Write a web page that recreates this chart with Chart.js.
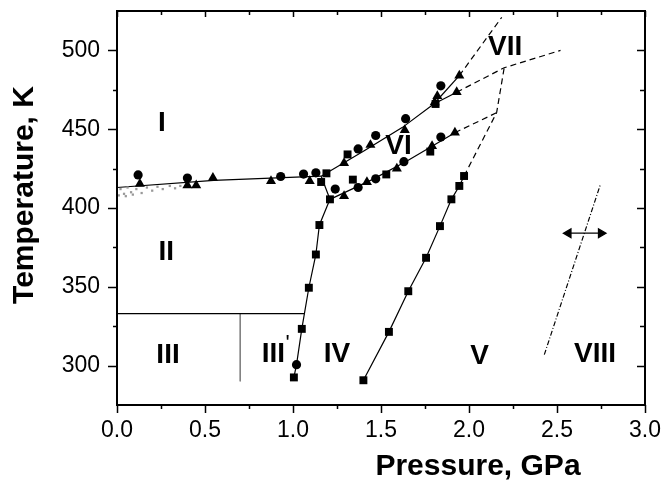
<!DOCTYPE html>
<html>
<head>
<meta charset="utf-8">
<script src="https://cdn.jsdelivr.net/npm/chart.js@4.4.1/dist/chart.umd.min.js"></script>
<style>
  html, body { margin: 0; padding: 0; background: #fff; }
  #wrap { width: 666px; height: 484px; }
</style>
</head>
<body>
<div id="wrap"><canvas id="phase"></canvas></div>
<script>
// tick values
const xTicks = [0, 0.5, 1.0, 1.5, 2.0, 2.5, 3.0];
const yTicks = [300, 350, 400, 450, 500];

// measured points [P (GPa), T (K)]
const circles = [
  [0.12, 421], [0.40, 419], [0.93, 420], [1.06, 421.5], [1.13, 422.3],
  [1.24, 412], [1.37, 413], [1.47, 418.5], [1.63, 429.4], [1.84, 445],
  [1.37, 437.5], [1.47, 446], [1.64, 456.7], [1.84, 477.5], [1.02, 300.6]
];
const squares = [
  [1.19, 422], [1.16, 416.5], [1.31, 434], [1.81, 466],
  [1.21, 405.5], [1.15, 389.2], [1.13, 370.5], [1.09, 349.4], [1.05, 323.3], [1.005, 292.5],
  [1.34, 418], [1.53, 421.3], [1.78, 435.8],
  [1.40, 290.7], [1.545, 321.4], [1.655, 347.2], [1.756, 368.4], [1.835, 388.5],
  [1.90, 405.5], [1.945, 414], [1.972, 420.3]
];
const triangles = [
  [0.13, 415.4], [0.40, 414.4], [0.45, 414.4], [0.545, 419.2], [0.875, 417.1], [1.095, 417.1],
  [1.29, 428.5], [1.44, 440], [1.635, 449.5], [1.805, 467], [1.82, 471], [1.93, 473.5], [1.945, 484],
  [1.29, 407.6], [1.42, 416.5], [1.59, 425], [1.79, 439.3], [1.92, 447.8]
];
// faint hatched band of readings near the I/II boundary
const hatch = [
  [0.02, 412], [0.04, 409], [0.06, 413], [0.08, 410], [0.11, 412], [0.14, 409.5],
  [0.17, 413], [0.20, 411], [0.23, 413.5], [0.26, 412], [0.30, 414], [0.33, 412.5], [0.36, 414],
  [0.01, 408], [0.05, 407.5], [0.09, 408.5]
];

// phase boundaries
const lineIII = [[0, 333], [1.068, 333]];
const lineIIIp = [[0.70, 333], [0.70, 290]];
const lineIII_II = [[0, 413], [0.55, 417.5], [1.16, 420.2]];
const lineIV = [[1.16, 420.2], [1.21, 405.5], [1.15, 389.2], [1.13, 370.5], [1.09, 349.4], [1.05, 323.3], [1.02, 300.6], [1.005, 292.5]];
const lineUpper = [[1.16, 420.2], [1.40, 436], [1.62, 451], [1.80, 466]];
const lineUpperA = [[1.80, 466], [1.945, 484]];
const lineUpperB = [[1.80, 466], [1.93, 473.5]];
const lineLower = [[1.21, 405.5], [1.45, 418], [1.65, 430], [1.92, 447.8]];
const lineV = [[1.40, 290.7], [1.545, 321.4], [1.655, 347.2], [1.756, 368.4], [1.835, 388.5], [1.90, 405.5], [1.945, 414], [1.972, 420.3]];
const dashA = [[1.945, 484], [2.186, 521]];
const dashB = [[1.93, 473.5], [2.20, 489], [2.52, 500]];
const dashLower = [[1.92, 447.8], [2.157, 460.5]];
const dashV = [[1.972, 420.3], [2.157, 460.5], [2.20, 489]];
const lineVIII = [[2.428, 307], [2.748, 415.4]];
const arrow = [[2.565, 384], [2.75, 384]];

// region names
const regionNames = ['I', 'II', 'III', 'III', 'IV', 'V', 'VI', 'VII', 'VIII'];
const regionP = [0.255, 0.28, 0.29, 0.889, 1.25, 2.06, 1.60, 2.205, 2.716];
const regionT = [454, 372, 306.5, 307, 307, 306, 439, 501.8, 307];

const pts = a => a.map(([x, y]) => ({ x: x, y: y }));

function lineSet(arr, dash, width, color) {
  return {
    data: pts(arr),
    showLine: true,
    borderColor: color || '#000',
    borderWidth: width || 1.2,
    borderDash: dash || [],
    pointRadius: 0,
    fill: false
  };
}
function markSet(arr, style, r, color) {
  return {
    data: pts(arr),
    showLine: false,
    pointStyle: style,
    pointRadius: r,
    backgroundColor: color || '#000',
    borderColor: color || '#000',
    borderWidth: 0
  };
}

const frame = {
  id: 'frame',
  afterDatasetsDraw(chart) {
    const ctx = chart.ctx;
    const a = chart.chartArea;
    const sx = chart.scales.x;
    const sy = chart.scales.y;
    ctx.save();
    ctx.strokeStyle = '#000';
    ctx.lineWidth = 2;
    ctx.strokeRect(a.left, a.top, a.right - a.left, a.bottom - a.top);
    ctx.lineWidth = 1.5;
    ctx.beginPath();
    for (let v = 0; v <= 3.001; v += 0.25) {
      const px = Math.round(sx.getPixelForValue(v)) + 0.5;
      const major = Math.abs(v * 2 - Math.round(v * 2)) < 1e-6;
      const len = major ? 8 : 4;
      ctx.moveTo(px, a.bottom); ctx.lineTo(px, a.bottom + len);
      ctx.moveTo(px, a.top); ctx.lineTo(px, a.top + (major ? 6 : 4));
    }
    for (let v = 300; v <= 500; v += 25) {
      const py = Math.round(sy.getPixelForValue(v)) + 0.5;
      const major = v % 50 === 0;
      ctx.moveTo(a.left, py); ctx.lineTo(a.left - (major ? 9 : 4), py);
      ctx.moveTo(a.right, py); ctx.lineTo(a.right - (major ? 8 : 5), py);
    }
    ctx.stroke();

    // region labels
    ctx.fillStyle = '#000';
    ctx.font = 'bold 28px "Liberation Sans", Arial, sans-serif';
    ctx.textAlign = 'center';
    ctx.textBaseline = 'middle';
    regionNames.forEach((n, i) => {
      ctx.fillText(n, sx.getPixelForValue(regionP[i]), sy.getPixelForValue(regionT[i]));
    });
    // prime on III'
    ctx.font = '22px "Liberation Sans", Arial, sans-serif';
    ctx.textBaseline = 'top';
    ctx.fillText("'", sx.getPixelForValue(0.97), sy.getPixelForValue(320.5));

    // axis titles
    ctx.font = 'bold 30px "Liberation Sans", Arial, sans-serif';
    ctx.textBaseline = 'alphabetic';
    ctx.fillText('Pressure, GPa', 478, 475);
    ctx.translate(33, 195);
    ctx.rotate(-Math.PI / 2);
    ctx.fillText('Temperature, K', 0, 0);
    ctx.restore();
  }
};

const tickFont = { family: '"Liberation Sans", Arial, sans-serif', size: 23 };

new Chart(document.getElementById('phase'), {
  type: 'scatter',
  data: {
    datasets: [
      markSet(hatch, 'rect', 1.6, '#999'),
      lineSet(lineIII, [], 1.3),
      lineSet(lineIIIp, [], 0.8, '#777'),
      lineSet(lineIII_II),
      lineSet(lineIV),
      lineSet(lineUpper),
      lineSet(lineUpperA),
      lineSet(lineUpperB),
      lineSet(lineLower),
      lineSet(lineV),
      lineSet(dashA, [6, 4]),
      lineSet(dashB, [6, 4]),
      lineSet(dashLower, [6, 4]),
      lineSet(dashV, [6, 4]),
      lineSet(lineVIII, [5, 2, 1, 2], 1.2),
      Object.assign(lineSet(arrow, [], 1.3), {
        pointStyle: 'triangle', pointRadius: 5, pointRotation: [270, 90],
        pointBackgroundColor: '#000', pointBorderColor: '#000'
      }),
      markSet(circles, 'circle', 4.6),
      markSet(squares, 'rect', 5.6),
      markSet(triangles, 'triangle', 5.8)
    ]
  },
  options: {
    responsive: true,
    maintainAspectRatio: false,
    animation: false,
    layout: { padding: { left: 62, right: 21, top: 11, bottom: 39 } },
    plugins: { legend: { display: false }, tooltip: { enabled: false } },
    scales: {
      x: {
        type: 'linear', min: 0, max: 3,
        afterBuildTicks: s => { s.ticks = xTicks.map(v => ({ value: v })); },
        afterFit: s => { s.height = 40; s.paddingLeft = 0; s.paddingRight = 0; },
        ticks: { font: tickFont, color: '#000', padding: 12, maxRotation: 0, autoSkip: false,
                 callback: v => v.toFixed(1) },
        grid: { display: false, drawTicks: false },
        border: { display: false }
      },
      y: {
        type: 'linear', min: 275, max: 525,
        afterBuildTicks: s => { s.ticks = yTicks.map(v => ({ value: v })); },
        afterFit: s => { s.width = 55; s.paddingTop = 0; s.paddingBottom = 0; },
        ticks: { font: tickFont, color: '#000', padding: 17, autoSkip: false },
        grid: { display: false, drawTicks: false },
        border: { display: false }
      }
    }
  },
  plugins: [frame]
});
</script>
</body>
</html>
